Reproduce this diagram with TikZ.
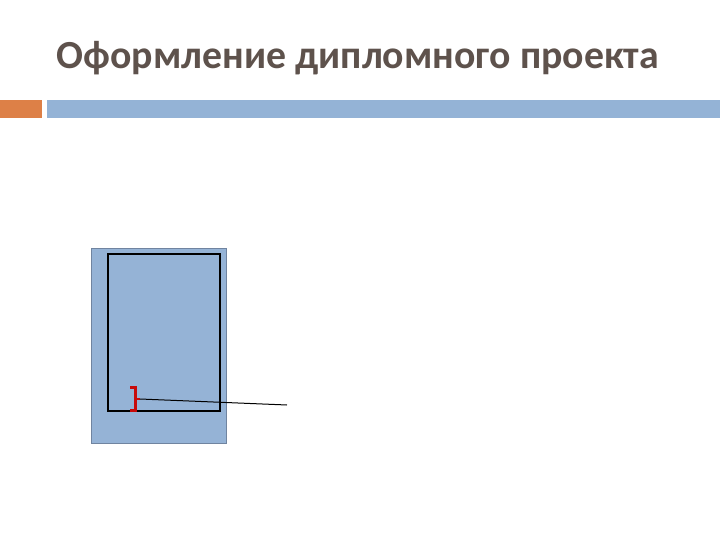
\documentclass[tikz,border=0pt]{standalone}
\usepackage{fontspec}
\setmainfont{Carlito}
\definecolor{titlec}{RGB}{94,82,76}
\definecolor{orangebar}{RGB}{221,128,71}
\definecolor{bluebar}{RGB}{148,179,214}
\definecolor{pagefill}{RGB}{149,179,214}
\definecolor{pageedge}{RGB}{112,132,160}
\definecolor{redmark}{RGB}{200,10,10}
\begin{document}
\begin{tikzpicture}[x=1pt,y=-1pt,
  pagebox/.style={fill=pagefill,draw=pageedge,line width=1.5pt},
  frame/.style={draw=black,line width=1.8pt},
  leader/.style={draw=black,line width=1pt}]
\useasboundingbox (0,0) rectangle (720,540);
\node[anchor=base west,inner sep=0pt,text=titlec,font=\fontsize{39.8}{46}\selectfont\bfseries] (title) at (56.5,68.5) {Оформление дипломного проекта};
\fill[orangebar] (0,100) rectangle (42,118);
\fill[bluebar] (47,100) rectangle (720,118);
\node[pagebox,minimum width=135pt,minimum height=195pt,inner sep=0pt,anchor=north west] (page) at (90.5,247.5) {};
\node[frame,minimum width=112pt,minimum height=157pt,inner sep=0pt,anchor=north west] (frm) at (107,253) {};
\draw[redmark,line width=3pt,line join=miter] (130,387.5) -- (135,387.5) -- (135,410.5) -- (130,410.5);
\draw[redmark,line width=2.5pt] (135,399) -- (140,399);
\coordinate (b) at (140,399);
\coordinate (e) at (287,405);
\draw[leader] (b) -- (e);
\end{tikzpicture}
\end{document}
